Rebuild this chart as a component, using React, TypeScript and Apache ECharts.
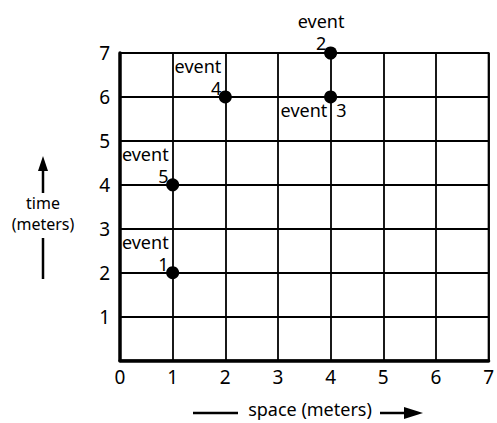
import React, { useEffect, useRef } from "react";
import * as echarts from "echarts";

const eventNames = ["1", "2", "3", "4", "5"];
const eventSpace = [1, 4, 4, 2, 1];
const eventTime = [2, 7, 6, 6, 4];
const axisMin = 0;
const axisMax = 7;
const yTitle = ["time", "(meters)"];
const xTitle = "space (meters)";

const FONT = "'Noto Sans', sans-serif";

// label placement per event (styling only)
const leftStacked = { position: [2.5, 8.5], align: "right", verticalAlign: "bottom", stacked: true };
const labelStyles: any[] = [
  leftStacked,
  { position: [-3, 7], align: "center", verticalAlign: "bottom", stacked: true },
  { position: [-43.5, 9], align: "left", verticalAlign: "top", stacked: false },
  leftStacked,
  leftStacked,
];

export default function App() {
  const ref = useRef<HTMLDivElement>(null);
  useEffect(() => {
    document.body.style.margin = "0";
    const chart = echarts.init(ref.current!, null, { renderer: "svg" });
    const data = eventNames.map((n, i) => {
      const s = labelStyles[i];
      return {
        value: [eventSpace[i], eventTime[i]],
        name: n,
        label: {
          show: true,
          position: s.position,
          align: s.align,
          verticalAlign: s.verticalAlign,
          color: "#000",
          textBorderWidth: 0,
          textBorderColor: "transparent",
          formatter: s.stacked ? `{a|event}\n{a|${n}}` : `{a|event}{b|${n}}`,
          rich: {
            a: { fontFamily: FONT, fontSize: 18, lineHeight: 22, color: "#000", align: s.align, textBorderWidth: 0 },
            b: { fontFamily: FONT, fontSize: 18, lineHeight: 22, color: "#000", padding: [0, 0, 0, 9], textBorderWidth: 0 },
          },
        },
      };
    });
    const lw = 2.5;
    chart.setOption({
      animation: false,
      backgroundColor: "#fff",
      grid: {
        left: 120,
        top: 53,
        width: 375,
        height: 307.5,
        show: true,
        borderColor: "#000",
        borderWidth: 1.8,
        containLabel: false,
      },
      xAxis: {
        type: "value",
        min: axisMin,
        max: axisMax,
        interval: 1,
        axisLine: { show: true, onZero: false, lineStyle: { color: "#000", width: 3.5 } },
        axisTick: { show: false },
        axisLabel: { fontFamily: FONT, fontSize: 19, color: "#000", margin: 7, showMaxLabel: true, showMinLabel: true },
        splitLine: { show: true, lineStyle: { color: "#000", width: 1.8 } },
      },
      yAxis: {
        type: "value",
        min: axisMin,
        max: axisMax,
        interval: 1,
        axisLine: { show: true, onZero: false, lineStyle: { color: "#000", width: 3.5 } },
        axisTick: { show: false },
        axisLabel: {
          fontFamily: FONT,
          fontSize: 19,
          color: "#000",
          margin: 10,
          formatter: (v: number) => (v === 0 ? "" : String(v)),
        },
        splitLine: { show: true, lineStyle: { color: "#000", width: 1.8 } },
      },
      series: [
        {
          type: "scatter",
          symbol: "circle",
          symbolSize: 13,
          itemStyle: { color: "#000", opacity: 1 },
          data,
          z: 5,
        },
      ],
      graphic: [
        // y axis title
        { type: "line", shape: { x1: 43, y1: 193, x2: 43, y2: 168 }, style: { stroke: "#000", lineWidth: lw } },
        { type: "polygon", shape: { points: [[43, 156], [38, 171], [48, 171]] }, style: { fill: "#000" } },
        {
          type: "text",
          x: 43,
          y: 203,
          style: { text: yTitle[0], fontFamily: FONT, fontSize: 16, fill: "#000", align: "center", verticalAlign: "middle" },
        },
        {
          type: "text",
          x: 43,
          y: 224,
          style: { text: yTitle[1], fontFamily: FONT, fontSize: 16, fill: "#000", align: "center", verticalAlign: "middle" },
        },
        { type: "line", shape: { x1: 43, y1: 238, x2: 43, y2: 279 }, style: { stroke: "#000", lineWidth: lw } },
        // x axis title
        { type: "line", shape: { x1: 193, y1: 413, x2: 238, y2: 413 }, style: { stroke: "#000", lineWidth: lw } },
        {
          type: "text",
          x: 310,
          y: 409,
          style: { text: xTitle, fontFamily: FONT, fontSize: 18, fill: "#000", align: "center", verticalAlign: "middle" },
        },
        { type: "line", shape: { x1: 380, y1: 413, x2: 408, y2: 413 }, style: { stroke: "#000", lineWidth: lw } },
        { type: "polygon", shape: { points: [[423, 413], [404, 407], [404, 419]] }, style: { fill: "#000" } },
      ],
    });
    return () => chart.dispose();
  }, []);
  return (
    <div
      ref={ref}
      style={{ position: "fixed", left: 0, top: 0, width: 497, height: 423, background: "#fff" }}
    />
  );
}
